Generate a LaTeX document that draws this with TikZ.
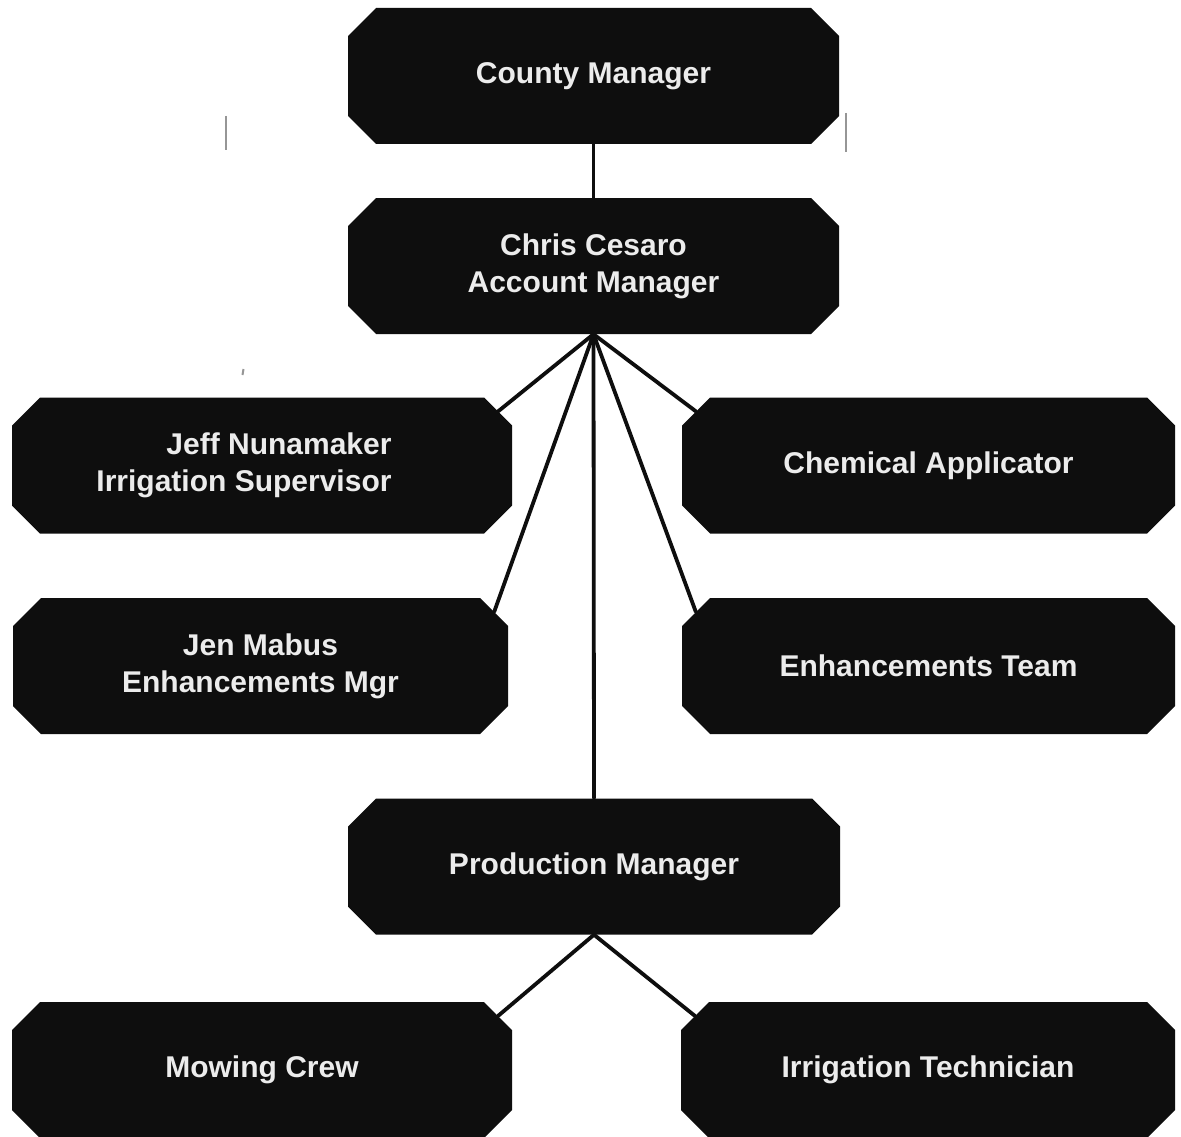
\documentclass[tikz,border=0pt]{standalone}
\usepackage{fontspec}
\setmainfont{Liberation Sans}
\usetikzlibrary{calc}
\definecolor{boxblack}{RGB}{14,14,14}
\definecolor{boxtext}{RGB}{236,236,236}
\definecolor{scan}{RGB}{150,150,150}
\begin{document}
\begin{tikzpicture}[x=1pt,y=-1pt,
  orgbox/.style={rectangle, inner sep=0pt, fill=white, align=center,
    text=boxtext, font=\bfseries\fontsize{30}{37}\selectfont,
    minimum height=136pt,
    path picture={\fill[boxblack]
      ($(path picture bounding box.north west)+(28pt,0pt)$) --
      ($(path picture bounding box.north east)+(-28pt,0pt)$) --
      ($(path picture bounding box.north east)+(0pt,-28pt)$) --
      ($(path picture bounding box.south east)+(0pt,28pt)$) --
      ($(path picture bounding box.south east)+(-28pt,0pt)$) --
      ($(path picture bounding box.south west)+(28pt,0pt)$) --
      ($(path picture bounding box.south west)+(0pt,28pt)$) --
      ($(path picture bounding box.north west)+(0pt,-28pt)$) -- cycle;}},
  link/.style={draw=boxblack, line width=3.8pt, line cap=round}]
\useasboundingbox[fill=white] (0,0) rectangle (1181,1137);

\node[orgbox, minimum width=491pt] (county) at (593.5,76) {County Manager};
\node[orgbox, minimum width=491pt] (chris) at (593.5,266) {Chris Cesaro\\Account Manager};
\node[orgbox, minimum width=500pt, align=right] (jeff) at (262,465.5)
  {Jeff Nunamaker\hspace*{36pt}\\Irrigation Supervisor\hspace*{36pt}};
\node[orgbox, minimum width=493pt] (chem) at (928.5,465.5) {Chemical Applicator};
\node[orgbox, minimum width=495pt] (jen) at (260.5,666) {Jen Mabus\\Enhancements Mgr};
\node[orgbox, minimum width=493pt] (enh) at (928.5,666) {Enhancements Team};
\node[orgbox, minimum width=492pt] (prod) at (594,866.5) {Production Manager};
\node[orgbox, minimum width=500pt] (mow) at (262,1070) {Mowing Crew};
\node[orgbox, minimum width=494pt] (irr) at (928,1070) {Irrigation Technician};

\draw[link] (county.south) -- (chris.north);
\draw[link] (chris.south) -- ($(jeff.north east)+(-14,14)$);
\draw[link] (chris.south) -- ($(jen.north east)+(-14,14)$);
\draw[link] (chris.south) -- (prod.north);
\draw[link] (chris.south) -- ($(enh.north west)+(14,14)$);
\draw[link] (chris.south) -- ($(chem.north west)+(14,14)$);
\draw[link] (prod.south) -- ($(mow.north east)+(-14,14)$);
\draw[link] (prod.south) -- ($(irr.north west)+(14,14)$);

% scan marks
\draw[scan, line width=2pt] (226,116) -- (226,150);
\draw[scan, line width=1.5pt] (846,113) -- (846,152);
\draw[scan, line width=2pt] (243.5,369) -- (242.5,375);
\end{tikzpicture}
\end{document}
